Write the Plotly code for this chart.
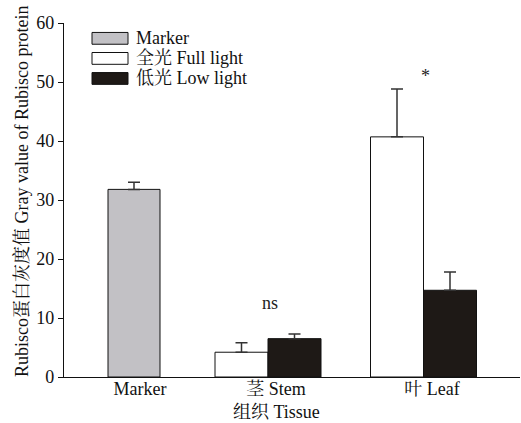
import plotly.graph_objects as go

# ---- data ----
tissues = ["Marker", "茎 Stem", "叶 Leaf"]
marker_value = [31.8]
marker_err = [1.2]
full_light = [4.2, 40.7]
full_light_err = [1.6, 8.1]
low_light = [6.5, 14.7]
low_light_err = [0.8, 3.1]
sig_labels = ["ns", "*"]
y_ticks = [0, 10, 20, 30, 40, 50, 60]

# ---- layout constants (x axis in plot pixels) ----
pos = {"Marker": 70, "茎 Stem": 204, "叶 Leaf": 359.5}
label_pos = [76, 212, 368]
BW = 53
SERIF = "Liberation Serif, Times New Roman, Noto Serif CJK SC, Noto Sans CJK SC, serif"
FS = 18

GRAY = "#c2c1c5"
BLACK = "#1e1916"
ERRC = "#333333"

fig = go.Figure()
fig.add_trace(go.Bar(
    x=[pos["Marker"]], y=marker_value, width=52, offset=-26,
    marker=dict(color=GRAY, line=dict(color="#111", width=1)),
    error_y=dict(type="data", symmetric=False, array=marker_err, arrayminus=[0],
                 color=ERRC, thickness=1.5, width=6),
    showlegend=False, name="Marker"))
fig.add_trace(go.Bar(
    x=[pos["茎 Stem"], pos["叶 Leaf"]], y=full_light, width=BW, offset=-BW,
    marker=dict(color="white", line=dict(color="#111", width=1)),
    error_y=dict(type="data", symmetric=False, array=full_light_err, arrayminus=[0, 0],
                 color=ERRC, thickness=1.5, width=6),
    showlegend=False, name="全光 Full light"))
fig.add_trace(go.Bar(
    x=[pos["茎 Stem"], pos["叶 Leaf"]], y=low_light, width=BW, offset=0,
    marker=dict(color=BLACK, line=dict(color="#111", width=1)),
    error_y=dict(type="data", symmetric=False, array=low_light_err, arrayminus=[0, 0],
                 color=ERRC, thickness=1.5, width=6),
    showlegend=False, name="低光 Low light"))

# significance labels
sig_y = [12.5, 51.0]
for lab, xk, yy in zip(sig_labels, ["茎 Stem", "叶 Leaf"], sig_y):
    fig.add_annotation(x=pos[xk] + 2, y=yy, text=lab, showarrow=False,
                       font=dict(family=SERIF, size=FS, color="#222"))

# manual legend
legend_items = [("Marker", GRAY), ("全光 Full light", "white"), ("低光 Low light", BLACK)]
row_y = [57.4, 54.0, 50.6]
for (name, col), yy in zip(legend_items, row_y):
    fig.add_shape(type="rect", xref="x", yref="y", x0=28, x1=64, y0=yy - 1.0, y1=yy + 1.0,
                  fillcolor=col, line=dict(color="#111", width=1))
    fig.add_annotation(x=70, y=yy, xref="x", yref="y", text=name, showarrow=False,
                       xanchor="left", font=dict(family=SERIF, size=FS, color="#111"))

# axis titles
fig.add_annotation(x=-0.092, y=0.523, xref="paper", yref="paper", textangle=-90,
                   text="Rubisco蛋白灰度值 Gray value of Rubisco protein", showarrow=False,
                   xanchor="center", yanchor="middle",
                   font=dict(family=SERIF, size=18, color="#111"))
fig.add_annotation(x=212 / 456, y=(377 - 412) / 354, xref="paper", yref="paper",
                   text="组织 Tissue", showarrow=False, xanchor="center", yanchor="middle",
                   font=dict(family=SERIF, size=FS, color="#111"))

fig.update_layout(
    width=521, height=423,
    margin=dict(l=64, r=1, t=23, b=46),
    paper_bgcolor="white", plot_bgcolor="white",
    barmode="overlay",
    font=dict(family=SERIF, size=FS, color="#111"),
    xaxis=dict(range=[0, 456], showgrid=False, zeroline=False, showline=True,
               linecolor="#111", linewidth=1.2, ticks="",
               tickvals=label_pos, ticktext=tissues, ticklabelstandoff=-5,
               tickfont=dict(family=SERIF, size=FS, color="#111")),
    yaxis=dict(range=[0, 60], showgrid=False, zeroline=False, showline=True,
               linecolor="#111", linewidth=1.2, ticks="outside", ticklen=5,
               tickcolor="#111", tickvals=y_ticks,
               tickfont=dict(family=SERIF, size=FS, color="#111")),
)

fig.write_html("out.html", config={"displayModeBar": False},
               post_script="document.body.style.margin='0';")
